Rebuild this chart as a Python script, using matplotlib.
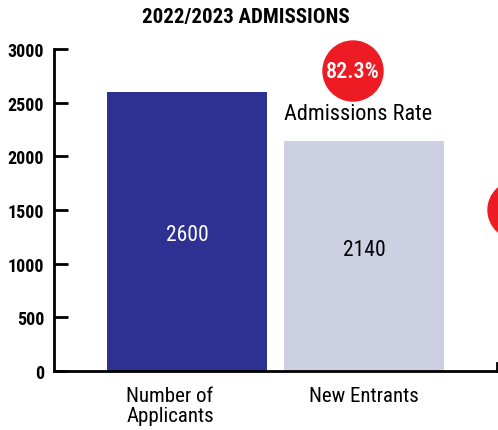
import matplotlib
matplotlib.use('Agg')
import matplotlib.pyplot as plt
from matplotlib.patches import Circle
from matplotlib.transforms import ScaledTranslation

# данные
categories = ['Number of\nApplicants', 'New Entrants']
values = [2600, 2140]
bar_colors = ['#2E3192', '#CDCFE3']
label_colors = ['white', 'black']
label_pos = [0.49, 0.53]   # где внутри столбца стоит подпись (доля высоты)
rate_label = '82.3%'
yticks = [0, 500, 1000, 1500, 2000, 2500, 3000]

plt.rcParams['font.family'] = ['Roboto Condensed', 'DejaVu Sans']

fig = plt.figure(figsize=(4.98, 4.31), dpi=100)
ax = fig.add_axes([54 / 498, 59 / 431, 443 / 498, 322 / 431])

x = list(range(len(categories)))
ax.bar(x, values, width=0.904, color=bar_colors)
for xi, v, c, p in zip(x, values, label_colors, label_pos):
    ax.text(xi, v * p, str(v), ha='center', va='center', color=c, fontsize=15.5)

ax.set_xlim(-0.751, 1.751)
ax.set_ylim(0, 3000)
ax.set_yticks(yticks)
ax.set_yticklabels([str(t) for t in yticks], fontsize=13, fontweight='bold')
ax.set_xticks(x)
ax.set_xticklabels(categories, fontsize=15, linespacing=1.05)
ax.tick_params(axis='y', direction='in', length=10, width=2, pad=7)
ax.tick_params(axis='x', length=0, pad=11)
# первая подпись в оригинале немного сдвинута влево
lbl = ax.get_xticklabels()[0]
lbl.set_transform(lbl.get_transform() + ScaledTranslation(-0.17, 0, fig.dpi_scale_trans))

for s in ['top', 'right']:
    ax.spines[s].set_visible(False)
ax.spines['left'].set_linewidth(2)
ax.spines['bottom'].set_linewidth(2)
# маленький засечка на правом конце оси
ax.plot([1, 1], [0, 0.025], transform=ax.transAxes, color='black', lw=2, clip_on=False)

fig.text(246 / 498, 1 - 17 / 431, '2022/2023 ADMISSIONS', ha='center', va='center',
         fontsize=15, fontweight='bold')

# красные кружки
c1 = Circle((353, 431 - 72), 30, transform=None, color='#ED1C24')
fig.patches.append(c1)
fig.text(353 / 498, 1 - 72 / 431, rate_label, ha='center', va='center', color='white',
         fontsize=16, fontweight='medium')
c2 = Circle((517, 431 - 211), 29, transform=None, color='#ED1C24')
fig.patches.append(c2)
fig.text(358 / 498, 1 - 115 / 431, 'Admissions Rate', ha='center', va='center', fontsize=16)

fig.savefig('out.png', dpi=100)
